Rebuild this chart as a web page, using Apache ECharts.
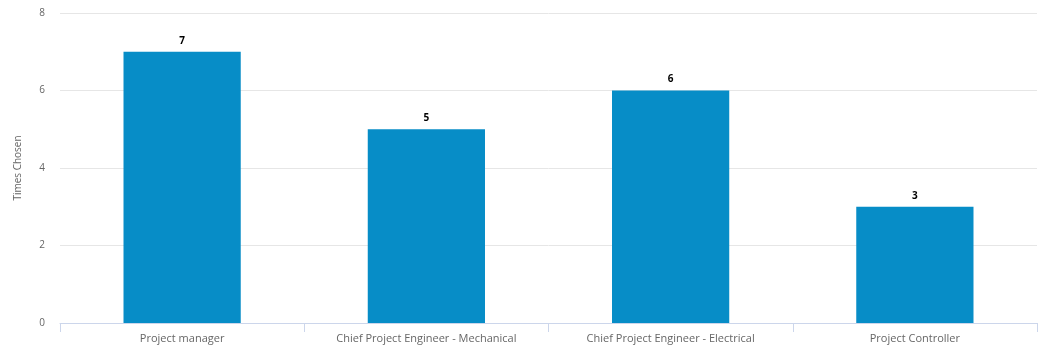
<!DOCTYPE html>
<html>
<head>
<meta charset="utf-8">
<script src="https://cdn.jsdelivr.net/npm/echarts@6/dist/echarts.min.js"></script>
<style>
  html, body { margin: 0; padding: 0; background: #fff; }
  #chart { width: 1038px; height: 347px; }
</style>
</head>
<body>
<div id="chart"></div>
<script>
// Roles and how many times each was chosen
const roles = [
  'Project manager',
  'Chief Project Engineer - Mechanical',
  'Chief Project Engineer - Electrical',
  'Project Controller'
];
const timesChosen = [7, 5, 6, 3];
const yTicks = [0, 2, 4, 6, 8];

const font = '"Open Sans", "Noto Sans", sans-serif';

const chart = echarts.init(document.getElementById('chart'), null, { renderer: 'canvas' });
chart.setOption({
  animation: false,
  grid: { left: 60, right: 1, top: 13, bottom: 24, containLabel: false },
  xAxis: {
    type: 'category',
    data: roles,
    axisLine: { show: true, lineStyle: { color: '#ccd6eb', width: 1 } },
    axisTick: { show: true, alignWithLabel: false, length: 9, lineStyle: { color: '#ccd6eb' } },
    axisLabel: { color: '#666666', fontSize: 11, fontFamily: font, margin: 10 },
    splitLine: { show: false }
  },
  yAxis: {
    type: 'value',
    min: yTicks[0],
    max: yTicks[yTicks.length - 1],
    interval: 2,
    name: 'Times Chosen',
    nameLocation: 'middle',
    nameGap: 37,
    nameTextStyle: { color: '#666666', fontSize: 10, fontFamily: font },
    axisLine: { show: false },
    axisTick: { show: false },
    axisLabel: { color: '#666666', fontSize: 10, fontFamily: font, margin: 15 },
    splitLine: { lineStyle: { color: '#e6e6e6', width: 1 } }
  },
  series: [{
    type: 'bar',
    data: timesChosen,
    barWidth: '48%',
    itemStyle: { color: '#078dc7' },
    label: {
      show: true,
      position: 'top',
      distance: 6,
      color: '#000000',
      fontSize: 10,
      fontWeight: 'bold',
      fontFamily: font
    }
  }]
});
</script>
</body>
</html>
